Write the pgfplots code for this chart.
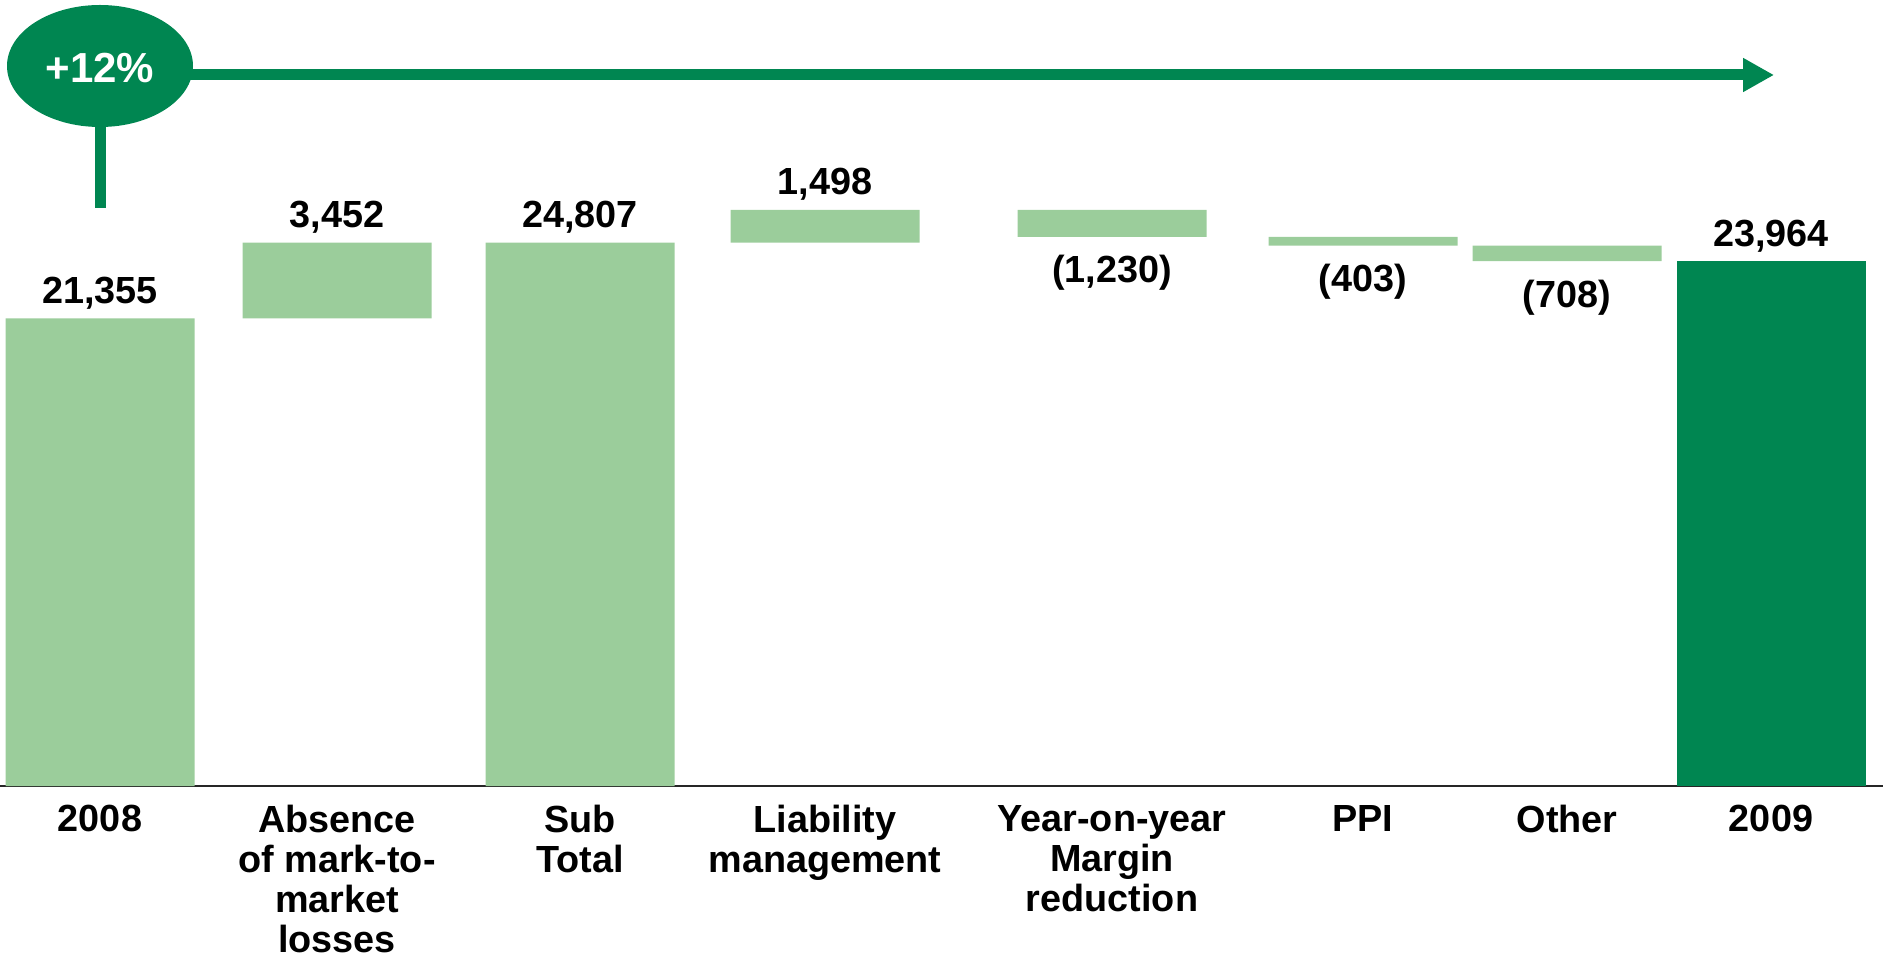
\documentclass[border=0pt]{standalone}
\usepackage{pgfplots}
\pgfplotsset{compat=1.18}
\usepackage{pgfplotstable}
\usepackage{fontspec}
\setmainfont{Liberation Sans}
\usetikzlibrary{arrows.meta}
\definecolor{lightg}{RGB}{155,205,155}
\definecolor{darkg}{RGB}{0,134,81}

\pgfplotstableread{
x    base   light  dark
100  0      21355  0
337  21355  3452   0
580  0      24807  0
825  24807  1498   0
1112 25075  1230   0
1363 24672  403    0
1567 23964  708    0
1771 0      0      23964
}\bars

\pgfplotstableread{
x    y      lab
100  21355  21,355
337  24807  3,452
580  24807  24,807
825  26305  1,498
1771 23964  23,964
}\above

\pgfplotstableread{
x    y      lab
1112 25075  (1,230)
1363 24672  (403)
1567 23964  (708)
}\below

\newcommand{\lblfont}{\fontsize{18.9}{20}\selectfont\bfseries}

\begin{document}
\begin{tikzpicture}
\useasboundingbox (0,-86pt) rectangle (941.5pt,393pt);
\pgfplotsset{
  common/.style={
    scale only axis, width=941.5pt, height=393pt,
    xmin=0, xmax=1883, ymin=0, ymax=35890,
    clip=false,
  }
}
\begin{axis}[
  common,
  ybar stacked, bar width=94.5pt,
  axis x line*=bottom, axis y line=none,
  x axis line style={line width=1.4pt, color=black!85},
  ytick=\empty,
  xtick=data,
  xtick style={draw=none},
  xticklabels={2008,{Absence\\of mark-to-\\market\\losses},{Sub\\Total},{Liability\\management},{Year-on-year\\Margin\\reduction},PPI,Other,2009},
  xticklabel style={font=\lblfont, align=center, anchor=north, inner sep=0pt, yshift=-9.5pt},
]
\addplot[draw=none, fill=none] table[x=x, y=base] {\bars};
\addplot[draw=none, fill=lightg] table[x=x, y=light] {\bars};
\addplot[draw=none, fill=darkg] table[x=x, y=dark] {\bars};
\end{axis}
\begin{axis}[common, hide axis]
\addplot[only marks, mark=text, text mark={},
  nodes near coords, point meta=explicit symbolic,
  nodes near coords style={font=\lblfont, anchor=base, inner sep=0pt, yshift=7.5pt, text=black}]
  table[x=x, y=y, meta=lab] {\above};
\addplot[only marks, mark=text, text mark={},
  nodes near coords, point meta=explicit symbolic,
  nodes near coords style={font=\lblfont, anchor=base, inner sep=0pt, yshift=-23pt, text=black}]
  table[x=x, y=y, meta=lab] {\below};
\end{axis}
% growth annotation
\draw[darkg, line width=5.5pt] (50.25pt,329.5pt) -- (50.25pt,289pt);
\draw[darkg, line width=5.5pt, -{Triangle[length=15.5pt, width=16pt]}] (90pt,355.5pt) -- (887pt,355.5pt);
\fill[darkg] (50pt,360pt) ellipse [x radius=46.5pt, y radius=30.5pt];
\node[text=white, font=\fontsize{21}{24}\selectfont\bfseries, inner sep=0pt] at (50pt,359pt) {+12\%};
\end{tikzpicture}
\end{document}
